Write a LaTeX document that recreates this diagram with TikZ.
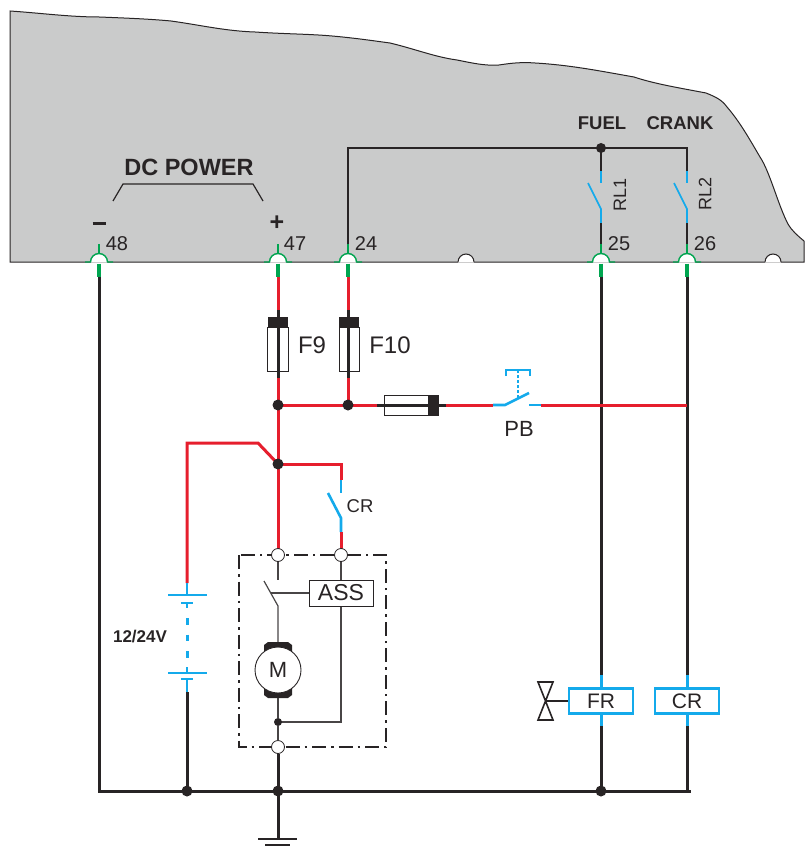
\documentclass[tikz,border=0pt]{standalone}
\usepackage{fontspec}
\setmainfont{Liberation Sans}
\definecolor{panelgray}{RGB}{202,203,203}
\definecolor{wred}{RGB}{230,30,45}
\definecolor{wblue}{RGB}{20,170,235}
\definecolor{wgreen}{RGB}{0,165,80}
\definecolor{ink}{RGB}{40,36,37}
\tikzset{
  thin wire/.style={draw=ink,line width=1.4pt},
  gray wire/.style={draw=ink!85,line width=1.2pt},
  heavy/.style={draw=ink,line width=3pt},
  redw/.style={draw=wred,line width=3pt},
  bluew/.style={draw=wblue,line width=2.6pt},
  bluethin/.style={draw=wblue,line width=1.6pt},
  greenw/.style={draw=wgreen,line width=1.4pt},
  greenplug/.style={draw=wgreen,line width=4.5pt},
  dot/.style={circle,fill=ink,draw=none,minimum size=11pt,inner sep=0pt},
  sdot/.style={circle,fill=ink,draw=none,minimum size=8pt,inner sep=0pt},
  hollow/.style={circle,fill=white,draw=ink,line width=.8pt,minimum size=13pt,inner sep=0pt},
  lbl/.style={text=ink,inner sep=0pt,font=\fontsize{20}{20}\selectfont},
  blbl/.style={text=ink,inner sep=0pt,font=\bfseries\fontsize{18.5}{18.5}\selectfont},
  coilbox/.style={draw=wblue,line width=2.4pt,fill=white,minimum width=64pt,minimum height=25pt,inner sep=0pt,text=ink,font=\fontsize{21}{21}\selectfont},
  fusebox/.style={draw=ink,line width=.8pt,fill=white},
}
\begin{document}
\begin{tikzpicture}[x=1pt,y=-1pt]
\useasboundingbox (0,0) rectangle (804,850);
% panel
\fill[panelgray,draw=ink,line width=1pt]
 (10,11) .. controls (40,13) and (70,17) .. (99,17)
 .. controls (125,18) and (150,19) .. (171,21)
 .. controls (200,25) and (225,31) .. (255,32)
 .. controls (285,34) and (310,34) .. (332,36)
 .. controls (355,38) and (375,41) .. (390,43)
 .. controls (415,49) and (435,57) .. (457,60)
 .. controls (472,63) and (485,66) .. (499,65)
 .. controls (512,63) and (522,62) .. (535,63)
 .. controls (570,65) and (600,71) .. (634,77)
 .. controls (655,84) and (680,88) .. (706,93)
 .. controls (716,97) and (722,100) .. (727,107)
 .. controls (740,122) and (750,140) .. (760,157)
 .. controls (770,172) and (778,205) .. (788,224)
 .. controls (792,231) and (798,236) .. (804,241)
 -- (804,262) -- (10,262) -- cycle;
% terminal notches
\foreach \nx/\n in {99/t48,278/t47,348/t24,601/t25,687/t26}{
  \fill[white] (\nx-8.5,262.6) arc[start angle=180,end angle=360,radius=8.5] -- cycle;
  \draw[greenw] (\nx-14,262) -- (\nx-8.5,262) arc[start angle=180,end angle=360,radius=8.5] -- (\nx+14,262);
  \draw[greenw] (\nx,244) -- (\nx,254);
  \draw[greenplug] (\nx,263.5) -- (\nx,277);
  \coordinate (\n) at (\nx,277);
}
\foreach \nx in {466,773}{
  \fill[white] (\nx-8,262.6) arc[start angle=180,end angle=360,radius=8] -- cycle;
  \draw[ink,line width=1pt] (\nx-8,262) arc[start angle=180,end angle=360,radius=8];
}
% named junctions
\coordinate (j1) at (278,405);
\coordinate (j2) at (348,405);
\coordinate (j3) at (278,464);
\coordinate (g1) at (187,791);
\coordinate (g2) at (278,791);
\coordinate (g3) at (601,791);
% internal relay wiring
\coordinate (i24) at (348,244);
\coordinate (fueljoin) at (601,148);
\draw[thin wire] (i24) -- (348,148) -- (fueljoin) -- (687,148) -- (687,171);
\draw[thin wire] (fueljoin) -- (601,171);
\draw[bluethin] (601,171) -- (601,183);
\draw[bluethin] (687,171) -- (687,183);
\draw[bluethin] (588,183) -- (601,209) -- (601,223);
\draw[bluethin] (674,183) -- (687,209) -- (687,223);
\draw[thin wire] (601,223) -- (601,244);
\draw[thin wire] (687,223) -- (687,244);
\node[dot,minimum size=10pt] at (fueljoin) {};
% DC power bracket
\draw[ink,line width=1.2pt] (113,201) -- (123,184) -- (253,184) -- (263,201);
\node[blbl,font=\bfseries\fontsize{23.5}{23.5}\selectfont,anchor=center] (dc) at (189,167) {DC POWER};
\node[ink,inner sep=0pt] (minus) at (99,223) {\rule{13pt}{3pt}};
\node[text=ink,inner sep=0pt,font=\bfseries\fontsize{25}{25}\selectfont] (plus) at (277,223) {+};
\node[lbl] (n48) at (117,244) {48};
\node[lbl] (n47) at (295,244) {47};
\node[lbl] (n24) at (366,244) {24};
\node[lbl] (n25) at (619,244) {25};
\node[lbl] (n26) at (705,244) {26};
\node[blbl] (fuel) at (602,123) {FUEL};
\node[blbl] (crank) at (680,123) {CRANK};
\node[lbl,rotate=90,font=\fontsize{18}{18}\selectfont] (rl1) at (620,195) {RL1};
\node[lbl,rotate=90,font=\fontsize{18}{18}\selectfont] (rl2) at (705,194) {RL2};
% red wires
\draw[redw] (t47) -- (278,310);
\draw[redw] (t24) -- (348,310);
\draw[redw] (278,378) -- (j1) -- (j3) -- (278,549);
\draw[redw] (348,378) -- (j2);
\draw[redw] (j1) -- (384,405);
\draw[redw] (445,405) -- (493,405);
\draw[redw] (j3) -- (341,464) -- (341,480);
\draw[redw] (j3) -- (258,443) -- (187,443) -- (187,583);
% fuses
\draw[fusebox] (267.5,327) rectangle (288,371);
\draw[fusebox] (339,327) rectangle (359,371);
\fill[ink] (267.5,316.5) rectangle (288,327);
\fill[ink] (339,316.5) rectangle (359,327);
\draw[heavy] (278,310) -- (278,378);
\draw[heavy] (348.5,310) -- (348.5,378);
\node[lbl,font=\fontsize{24}{24}\selectfont] (f9) at (312,345) {F9};
\node[lbl,font=\fontsize{24}{24}\selectfont] (f10) at (390,345) {F10};
\draw[fusebox] (384,395) rectangle (438,415);
\fill[ink] (428,394.5) rectangle (438,415);
\draw[heavy] (377,405) -- (446,405);
% PB
\draw[bluew] (493,405) -- (505,405) -- (529,393);
\draw[bluew] (529,405) -- (541,405);
\draw[draw=wblue,line width=1.2pt,dash pattern=on 3pt off 2pt] (518,398) -- (518,370);
\draw[draw=wblue,line width=1.6pt] (506,376) -- (506,370) -- (530,370) -- (530,376);
\node[lbl,font=\fontsize{22}{22}\selectfont] (pb) at (519,429) {PB};
% CR contact
\draw[bluew] (341,480) -- (341,493);
\draw[bluew] (328,493) -- (341,518) -- (341,532);
\draw[redw] (341,532) -- (341,549);
\node[lbl,font=\fontsize{18.5}{18.5}\selectfont] (crl) at (360,506) {CR};
% starter box
\draw[ink,line width=1.5pt,dash pattern=on 14pt off 5pt on 2.5pt off 5pt] (239,555) rectangle (386,747);
\node[hollow] (a) at (278,555) {};
\node[hollow] (b) at (341,555) {};
\node[hollow] (c) at (278,747) {};
\node[draw=ink,line width=1pt,fill=white,minimum width=64pt,minimum height=26pt,inner sep=0pt,text=ink,font=\fontsize{23}{23}\selectfont] (ass) at (341,593) {ASS};
\draw[gray wire] (a) -- (278,580);
\draw[gray wire] (264,581) -- (278,606) -- (278,642);
\draw[gray wire] (b) -- (ass);
\draw[gray wire] (271,593) -- (ass);
\draw[gray wire] (ass) -- (341,722) -- (278,722);
\node[sdot] (k) at (278,722) {};
% motor
\fill[ink] (264,652) -- (264,645) -- (268,642) -- (288,642) -- (292,645) -- (292,652) -- cycle;
\fill[ink] (264,688) -- (264,695) -- (268,698) -- (288,698) -- (292,695) -- (292,688) -- cycle;
\node[circle,draw=ink,line width=.9pt,fill=white,minimum size=46pt,inner sep=0pt,text=ink,font=\fontsize{22}{22}\selectfont] (m) at (278,670) {M};
\draw[gray wire] (278,698) -- (k);
\draw[gray wire] (k) -- (c);
% battery
\draw[bluew] (187,583) -- (187,595);
\draw[bluew] (168,595) -- (207,595);
\draw[bluew] (181,603) -- (193,603);
\draw[bluew] (187,603) -- (187,608);
\draw[draw=wblue,line width=3pt,dash pattern=on 6.5pt off 10pt] (187,618) -- (187,658);
\draw[bluew] (187,667) -- (187,673);
\draw[bluew] (168,673) -- (207,673);
\draw[bluew] (181,679) -- (193,679);
\draw[bluew] (187,679) -- (187,692);
\node[text=ink,inner sep=0pt,font=\bfseries\fontsize{17}{17}\selectfont] (v) at (140,637) {12/24V};
% coils
\node[coilbox] (fr) at (601,701) {FR};
\node[coilbox] (cr) at (687,701) {CR};
\draw[heavy] (t25) -- (601,675);
\draw[heavy] (t26) -- (687,675);
\draw[bluew,line width=3pt] (601,675) -- (fr);
\draw[bluew,line width=3pt] (687,675) -- (cr);
\draw[bluew,line width=3pt] (fr) -- (601,726);
\draw[bluew,line width=3pt] (cr) -- (687,726);
\draw[heavy] (601,726) -- (g3);
\draw[heavy] (687,726) -- (687,791);
% red feed passes over the black coil wires
\draw[redw] (541,405) -- (687,405);
% valve
\draw[ink,line width=1.6pt,line join=miter] (538,682) -- (553,682) -- (538,720) -- (553,720) -- cycle;
\draw[thin wire] (546,701) -- (fr);
% ground rails
\draw[heavy] (t48) -- (99,791) -- (691,791);
\draw[heavy] (187,692) -- (g1);
\draw[heavy] (c) -- (g2) -- (278,838);
\node[dot] at (g1) {};
\node[dot] at (g2) {};
\node[dot] at (g3) {};
\node[dot] at (j1) {};
\node[dot] at (j2) {};
\node[dot] at (j3) {};
\draw[ink,line width=2.4pt] (258,839) -- (297,839);
\draw[ink,line width=2.4pt] (265,845) -- (290,845);
\end{tikzpicture}
\end{document}
